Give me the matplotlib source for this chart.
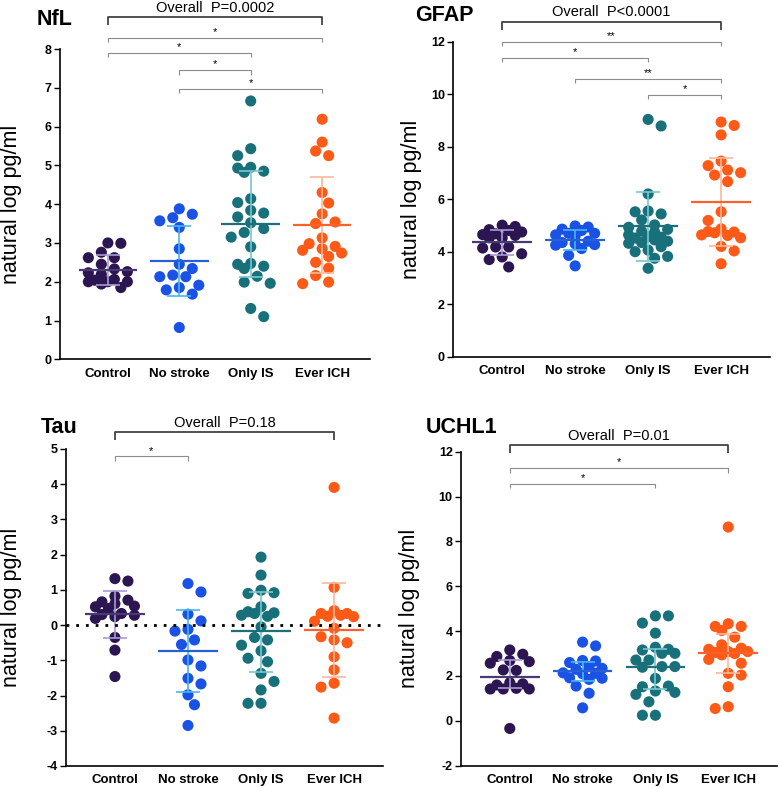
import numpy as np
import matplotlib.pyplot as plt

plt.rcParams['font.family'] = ['Liberation Sans', 'DejaVu Sans']

groups = ['Control', 'No stroke', 'Only IS', 'Ever ICH']

# NfL
nfl_control = [3.00, 2.99, 2.76, 2.62, 2.62, 2.45, 2.33, 2.26, 2.23, 2.19, 2.06, 2.04, 2.00, 2.00, 2.00, 1.94, 1.85]
nfl_nostroke = [3.88, 3.74, 3.65, 3.57, 3.40, 2.85, 2.45, 2.34, 2.17, 2.13, 2.13, 1.91, 1.85, 1.79, 1.68, 0.82]
nfl_onlyis = [6.66, 5.43, 5.25, 4.95, 4.93, 4.85, 4.82, 4.14, 4.04, 3.84, 3.77, 3.67, 3.52, 3.37, 3.27, 3.15,
              2.90, 2.47, 2.45, 2.40, 2.34, 2.14, 1.99, 1.96, 1.31, 1.10]
nfl_everich = [6.19, 5.60, 5.37, 5.25, 4.30, 4.03, 3.75, 3.54, 3.50, 3.13, 2.98, 2.91, 2.85, 2.81, 2.74, 2.65,
               2.50, 2.35, 2.16, 1.99, 1.95]
nfl_mean = [2.31, 2.53, 3.49, 3.46]
nfl_lo = [1.92, 1.63, 2.11, 2.22]
nfl_hi = [2.68, 3.43, 4.86, 4.70]

# GFAP
gfap_control = [5.01, 4.96, 4.84, 4.81, 4.75, 4.68, 4.65, 4.62, 4.53, 4.53, 4.18, 4.18, 4.14, 3.92, 3.80, 3.70, 3.42]
gfap_nostroke = [4.98, 4.94, 4.86, 4.81, 4.70, 4.70, 4.64, 4.60, 4.40, 4.35, 4.30, 4.27, 4.25, 4.12, 3.86, 3.46]
gfap_onlyis = [9.04, 8.79, 6.20, 5.55, 5.52, 5.44, 5.21, 5.02, 4.93, 4.85, 4.78, 4.75, 4.64, 4.57, 4.55, 4.52,
               4.45, 4.40, 4.35, 4.32, 4.19, 4.06, 4.00, 3.82, 3.75, 3.37]
gfap_everich = [8.94, 8.81, 8.45, 7.45, 7.28, 7.11, 7.01, 6.92, 6.67, 5.52, 5.19, 4.87, 4.77, 4.75, 4.72, 4.64,
                4.62, 4.53, 4.20, 4.03, 3.54]
gfap_mean = [4.37, 4.43, 4.96, 5.89]
gfap_lo = [3.89, 4.05, 3.65, 4.22]
gfap_hi = [4.81, 4.81, 6.27, 7.57]

# Tau
tau_control = [1.32, 1.25, 0.82, 0.71, 0.66, 0.61, 0.54, 0.52, 0.47, 0.33, 0.30, 0.28, 0.24, 0.19, -0.35, -0.71, -1.46]
tau_nostroke = [1.18, 0.94, 0.31, 0.12, -0.12, -0.17, -0.42, -0.55, -0.99, -1.16, -1.51, -1.67, -1.98, -2.26, -2.85]
tau_onlyis = [1.93, 1.42, 0.99, 0.92, 0.90, 0.52, 0.38, 0.35, 0.33, 0.28, 0.25, -0.05, -0.35, -0.42, -0.57, -0.73,
              -0.94, -1.04, -1.37, -1.60, -1.84, -2.22, -2.22]
tau_everich = [3.91, 1.07, 0.41, 0.33, 0.33, 0.28, 0.25, 0.24, 0.11, -0.09, -0.33, -0.42, -0.50, -0.90, -1.27,
               -1.65, -1.76, -2.64]
tau_mean = [0.32, -0.74, -0.18, -0.15]
tau_lo = [-0.36, -1.91, -1.32, -1.48]
tau_hi = [0.98, 0.42, 0.94, 1.20]

# UCHL1
uchl1_control = [3.16, 2.97, 2.87, 2.69, 2.64, 2.57, 2.27, 2.25, 1.70, 1.65, 1.60, 1.45, 1.42, 1.42, 1.42, -0.34]
uchl1_nostroke = [3.51, 3.34, 2.69, 2.67, 2.60, 2.42, 2.34, 2.30, 2.14, 2.12, 2.10, 1.92, 1.90, 1.85, 1.55, 1.23, 0.58]
uchl1_onlyis = [4.68, 4.68, 4.36, 3.91, 3.28, 3.19, 3.16, 3.01, 3.01, 2.71, 2.71, 2.42, 2.42, 2.39, 1.89, 1.55,
                1.52, 1.33, 1.27, 1.18, 0.85, 0.25, 0.25]
uchl1_everich = [8.64, 4.33, 4.21, 4.21, 4.03, 3.73, 3.39, 3.24, 3.19, 3.09, 3.09, 3.05, 3.00, 2.94, 2.74, 2.57,
                 2.12, 2.04, 1.52, 0.63, 0.55]
uchl1_mean = [1.97, 2.21, 2.42, 3.04]
uchl1_lo = [1.47, 1.77, 1.42, 2.12]
uchl1_hi = [2.71, 2.64, 3.22, 3.88]

point_colors = ['#2b1652', '#1a52e6', '#18707a', '#fd5a17']
mean_colors = ['#4a3a72', '#2660d6', '#1f6f7a', '#f9622a']
err_colors = ['#a899d8', '#45b7ef', '#78c7d1', '#f8b79c']

W, H = 778, 788
XLIM = (-0.67, 3.67)


def swarm(vals, px_y, px_x, diam=11.0, step=6.5, kmax=3):
    # simple beeswarm in pixel space, returns x offsets in category units
    vals = np.asarray(vals, float)
    ys = vals * px_y
    offs = np.zeros(len(vals))
    placed = []
    for n, i in enumerate(np.argsort(-vals)):
        cands = [0.0]
        for k in range(1, kmax + 1):
            cands += [k * step, -k * step] if n % 2 else [-k * step, k * step]
        best, best_d = 0.0, -1.0
        for c in cands:
            d = min([np.hypot(c - px, ys[i] - py) for px, py in placed], default=1e9)
            if d >= diam:
                best = c
                break
            if d > best_d:
                best, best_d = c, d
        placed.append((best, ys[i]))
        offs[i] = best / px_x
    return offs


def bracket(ax, i, j, y, tick, color, lw):
    ax.plot([i, i, j, j], [y - tick, y, y, y - tick], color=color, lw=lw,
            clip_on=False, solid_capstyle='butt')


def panel(box, title, title_xy, data, mean, lo, hi, ylim, yticks,
          overall, overall_y, sigs, label_dist, zero_line=False):
    left, top, right, bottom = box
    ax = fig.add_axes([left / W, 1 - bottom / H, (right - left) / W, (bottom - top) / H])
    px_y = (bottom - top) / (ylim[1] - ylim[0])
    px_x = (right - left) / (XLIM[1] - XLIM[0])

    for g, vals in enumerate(data):
        x = g + swarm(vals, px_y, px_x)
        ax.scatter(x, vals, s=64, color=point_colors[g], edgecolors='none', zorder=2, clip_on=False)
        ax.errorbar(g, mean[g], yerr=[[mean[g] - lo[g]], [hi[g] - mean[g]]], fmt='none',
                    ecolor=err_colors[g], elinewidth=1.2, capsize=8.4, capthick=1.2, zorder=3)
        ax.hlines(mean[g], g - 0.41, g + 0.41, color=mean_colors[g], lw=1.6, zorder=4)

    if zero_line:
        ax.axhline(0, color='black', lw=2, linestyle=(0, (1, 2.5)), zorder=5)

    # overall bracket
    bracket(ax, 0, 3, overall_y, 8 / px_y, '#333333', 1.2)
    ax.annotate(overall, xy=(1.5, overall_y), xytext=(0, 4), textcoords='offset points',
                ha='center', va='baseline', fontsize=10.5, annotation_clip=False)
    for i, j, star, y in sigs:
        bracket(ax, i, j, y, 4.5 / px_y, '#8c8c8c', 0.8)
        ax.annotate(star, xy=((i + j) / 2, y), xytext=(0, 2), textcoords='offset points',
                    ha='center', va='baseline', fontsize=8, annotation_clip=False)

    ax.set_xlim(*XLIM)
    ax.set_ylim(*ylim)
    ax.set_xticks(range(4))
    ax.set_xticklabels(groups, fontweight='bold', fontsize=9.5)
    ax.set_yticks(yticks)
    ax.set_yticklabels([str(t) for t in yticks], fontweight='bold', fontsize=9)
    ax.tick_params(axis='x', length=0, pad=6)
    ax.tick_params(axis='y', length=4, width=1.0, pad=2)
    for s in ['top', 'right']:
        ax.spines[s].set_visible(False)
    for s in ['left', 'bottom']:
        ax.spines[s].set_linewidth(1.2)

    ax.set_ylabel('natural log pg/ml', fontsize=15.5, va='center')
    ax.yaxis.set_label_coords(-label_dist / (right - left), 0.5)

    fig.text(title_xy[0] / W, 1 - title_xy[1] / H, title, fontsize=15.5, fontweight='bold',
             ha='left', va='baseline')
    return ax


fig = plt.figure(figsize=(W / 100, H / 100), dpi=100)

panel((60, 49, 370, 359.3), 'NfL', (37, 25),
      [nfl_control, nfl_nostroke, nfl_onlyis, nfl_everich], nfl_mean, nfl_lo, nfl_hi,
      (0, 8), list(range(0, 9)), 'Overall  P=0.0002', 8.82,
      [(0, 3, '*', 8.29), (0, 2, '*', 7.90), (1, 2, '*', 7.45), (1, 3, '*', 6.97)], 48)

panel((453.3, 41.7, 770, 356.7), 'GFAP', (415, 20.7),
      [gfap_control, gfap_nostroke, gfap_onlyis, gfap_everich], gfap_mean, gfap_lo, gfap_hi,
      (0, 12), list(range(0, 13, 2)), 'Overall  P<0.0001', 12.76,
      [(0, 3, '**', 12.0), (0, 2, '*', 11.39), (1, 3, '**', 10.58), (2, 3, '*', 9.98)], 42)

panel((66, 449, 383, 766), 'Tau', (40.7, 432.7),
      [tau_control, tau_nostroke, tau_onlyis, tau_everich], tau_mean, tau_lo, tau_hi,
      (-4, 5), list(range(-4, 6)), 'Overall  P=0.18', 5.48,
      [(0, 1, '*', 4.79)], 54, zero_line=True)

panel((461, 451.7, 777, 765.7), 'UCHL1', (426, 433.3),
      [uchl1_control, uchl1_nostroke, uchl1_onlyis, uchl1_everich], uchl1_mean, uchl1_lo, uchl1_hi,
      (-2, 12), list(range(-2, 13, 2)), 'Overall  P=0.01', 12.29,
      [(0, 3, '*', 11.26), (0, 2, '*', 10.58)], 51)

fig.savefig('out.png', dpi=100)
